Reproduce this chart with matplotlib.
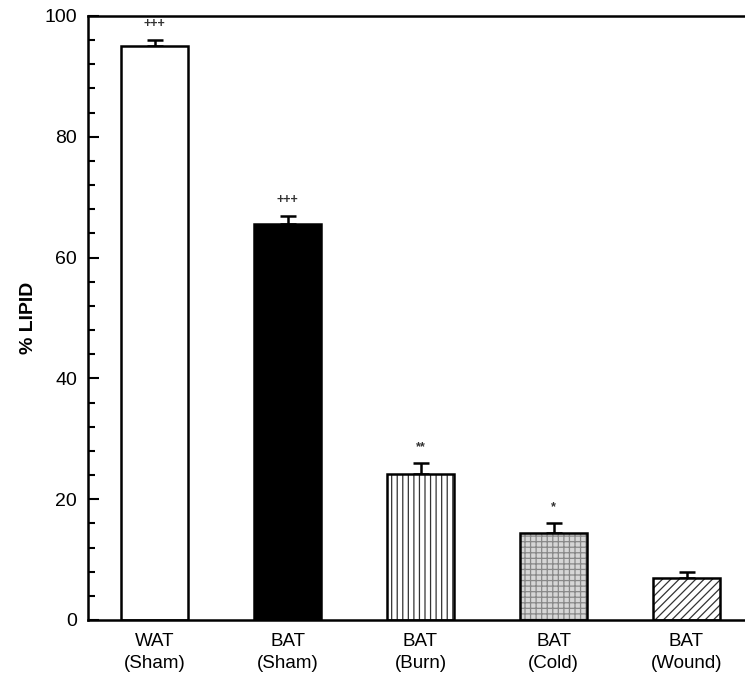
import matplotlib
matplotlib.use("Agg")
import matplotlib.pyplot as plt
from matplotlib.ticker import MultipleLocator

groups = ["WAT\n(Sham)", "BAT\n(Sham)", "BAT\n(Burn)", "BAT\n(Cold)", "BAT\n(Wound)"]
lipid = [95.0, 65.6, 24.2, 14.4, 7.0]
sem = [1.1, 1.3, 1.8, 1.7, 1.0]
marks = ["+++", "+++", "**", "*", ""]

fills = ["white", "black", "white", "#d6d6d6", "white"]
hatches = [None, None, "|||", "+++", "////"]
hatch_colors = ["black", "black", "#333333", "#888888", "#333333"]

plt.rcParams['font.family'] = ['Liberation Sans', 'DejaVu Sans']
plt.rcParams['hatch.linewidth'] = 0.9

fig = plt.figure(figsize=(7.45, 6.83), dpi=100)
ax = fig.add_axes([88/745, 1-620/683, 665/745, 604/683])

x = list(range(len(groups)))
for i in x:
    # fill + hatch first, then the black outline on top
    ax.bar(i, lipid[i], width=0.5, color=fills[i], edgecolor=hatch_colors[i],
           linewidth=0, hatch=hatches[i], zorder=2)
    ax.bar(i, lipid[i], width=0.5, fill=False, edgecolor='black',
           linewidth=1.8, zorder=3)
ax.errorbar(x, lipid, yerr=[[0]*len(sem), sem], fmt='none', ecolor='black',
            elinewidth=1.8, capsize=6, capthick=1.8, zorder=1)
for i in x:
    if marks[i]:
        ax.text(i, lipid[i] + sem[i] + 1.6, marks[i], ha='center', va='bottom',
                fontsize=9, fontweight='bold', color='#333333')

ax.set_xlim(-0.5, 4.5)
ax.set_ylim(0, 100)
ax.set_xticks(x)
ax.set_xticklabels(groups, fontsize=13.5, linespacing=1.45)
ax.tick_params(axis='x', length=0, pad=9)
ax.yaxis.set_major_locator(MultipleLocator(20))
ax.yaxis.set_minor_locator(MultipleLocator(4))
ax.tick_params(axis='y', which='major', direction='in', length=8, width=1.5,
               labelsize=14, pad=8)
ax.tick_params(axis='y', which='minor', direction='in', length=5, width=1.5)
for s in ax.spines.values():
    s.set_linewidth(1.8)
ax.set_ylabel("% LIPID", fontsize=14, fontweight='bold', labelpad=5)

fig.savefig("out.png", dpi=100)
